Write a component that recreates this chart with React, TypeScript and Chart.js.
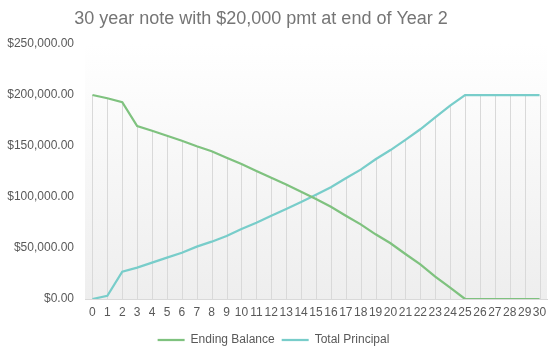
import React, { useEffect, useRef } from "react";
import { Chart, registerables } from "chart.js";

Chart.register(...registerables);

const titleText = "30 year note with $20,000 pmt at end of Year 2";
const years = Array.from({ length: 31 }, (_, i) => String(i));
const endingBalance = [
  200000, 196800, 193000, 169600, 165000, 160100, 155200, 149700, 144800, 138500,
  132400, 125500, 118900, 112200, 105200, 98000, 90500, 81700, 73200, 63400,
  54600, 44100, 34000, 21900, 11100, 0, 0, 0, 0, 0, 0,
];
const totalPrincipal = [
  0, 3200, 26800, 30700, 35600, 40500, 45400, 51300, 56200, 61800,
  68600, 74800, 81700, 88200, 95000, 102200, 109500, 118300, 126800, 137000,
  146000, 156000, 166400, 178100, 189500, 200000, 200000, 200000, 200000, 200000, 200000,
];
const yMax = 250000;
const yStep = 50000;

const FONT = "'Liberation Sans', Arial, sans-serif";
const GREEN = "#7fc27f";
const TEAL = "#78cdca";

const bgPlugin = {
  id: "plotBg",
  beforeDraw(chart: any) {
    const { ctx, chartArea } = chart;
    if (!chartArea) return;
    const g = ctx.createLinearGradient(0, chartArea.top, 0, chartArea.bottom);
    g.addColorStop(0, "#ffffff");
    g.addColorStop(1, "#eeeeee");
    ctx.save();
    ctx.fillStyle = g;
    ctx.fillRect(chartArea.left, chartArea.top, chartArea.right - chartArea.left, chartArea.bottom - chartArea.top);
    ctx.restore();
  },
};

const dropLinePlugin = {
  id: "dropLines",
  beforeDatasetsDraw(chart: any) {
    const { ctx, chartArea, scales } = chart;
    const xs = scales.x;
    const ys = scales.y;
    const n = chart.data.labels.length;
    ctx.save();
    ctx.strokeStyle = "#d9d9d9";
    ctx.lineWidth = 1;
    for (let i = 0; i < n; i++) {
      let maxV = -Infinity;
      chart.data.datasets.forEach((d: any) => {
        if (d.data[i] > maxV) maxV = d.data[i];
      });
      const x = Math.round(xs.getPixelForValue(i)) + 0.5;
      const top = ys.getPixelForValue(maxV);
      ctx.beginPath();
      ctx.moveTo(x, top);
      ctx.lineTo(x, chartArea.bottom);
      ctx.stroke();
    }
    ctx.restore();
  },
};

const titlePlugin = {
  id: "customTitle",
  afterDraw(chart: any) {
    const { ctx } = chart;
    ctx.save();
    ctx.font = `18px ${FONT}`;
    ctx.fillStyle = "#757575";
    ctx.textAlign = "center";
    ctx.textBaseline = "alphabetic";
    ctx.fillText(titleText, 261, 24);
    ctx.restore();
  },
};

export default function App() {
  const ref = useRef<HTMLCanvasElement | null>(null);
  useEffect(() => {
    document.body.style.margin = "0";
    const fmt = new Intl.NumberFormat("en-US", { minimumFractionDigits: 2, maximumFractionDigits: 2 });
    const chart = new Chart(ref.current as HTMLCanvasElement, {
      type: "line",
      data: {
        labels: years,
        datasets: [
          {
            label: "Ending Balance",
            data: endingBalance,
            borderColor: GREEN,
            backgroundColor: GREEN,
            borderWidth: 2.25,
            pointRadius: 0,
            tension: 0,
          },
          {
            label: "Total Principal",
            data: totalPrincipal,
            borderColor: TEAL,
            backgroundColor: TEAL,
            borderWidth: 2.25,
            pointRadius: 0,
            tension: 0,
          },
        ],
      },
      options: {
        animation: false,
        responsive: false,
        maintainAspectRatio: false,
        layout: { padding: { top: 44, left: 0, right: 10, bottom: 2 } },
        plugins: {
          title: { display: false },
          tooltip: { enabled: false },
          legend: {
            position: "bottom",
            labels: {
              usePointStyle: true,
              pointStyle: "line",
              pointStyleWidth: 27,
              boxHeight: 12,
              color: "#595959",
              font: { family: FONT, size: 12 },
              padding: 7,
            },
          },
        },
        scales: {
          x: {
            offset: true,
            grid: { display: false, drawTicks: false, offset: false },
            border: { display: true, color: "#d9d9d9", width: 1 },
            ticks: {
              autoSkip: false,
              maxRotation: 0,
              minRotation: 0,
              padding: 8,
              color: "#595959",
              font: { family: FONT, size: 12, lineHeight: 1 },
            },
          },
          y: {
            min: 0,
            max: yMax,
            afterFit: (s: any) => {
              s.width = 85;
            },
            grid: { display: false, drawTicks: false },
            border: { display: false },
            ticks: {
              stepSize: yStep,
              padding: 11,
              color: "#595959",
              font: { family: FONT, size: 12 },
              callback: (v: any) => "$" + fmt.format(Number(v)),
            },
          },
        },
      },
      plugins: [bgPlugin, dropLinePlugin, titlePlugin],
    });
    return () => chart.destroy();
  }, []);
  return (
    <div style={{ width: 557, height: 358 }}>
      <canvas ref={ref} width={557} height={358} style={{ display: "block" }} />
    </div>
  );
}
